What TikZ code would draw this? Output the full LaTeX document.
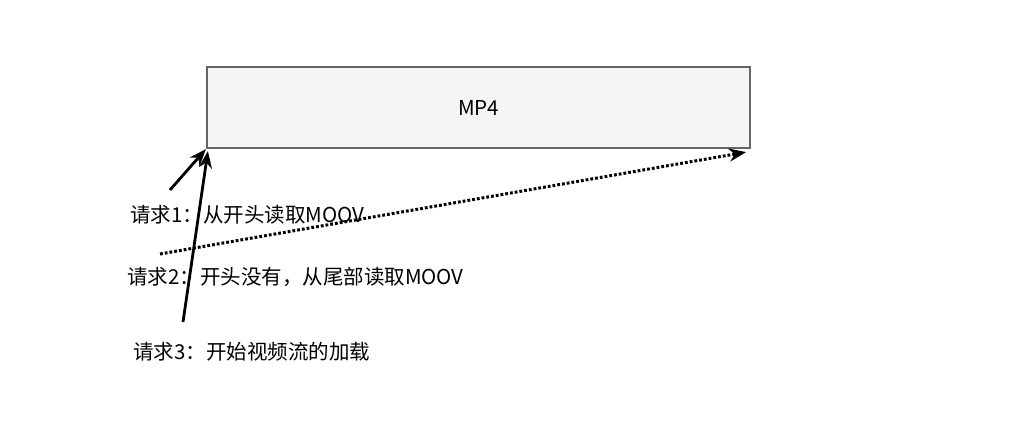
\documentclass[tikz,border=0pt]{standalone}
\usepackage{fontspec}
\setmainfont{Noto Sans CJK SC}
\usetikzlibrary{arrows.meta}
\begin{document}
\begin{tikzpicture}[x=1pt,y=-1pt,
  lbl/.style={anchor=west,inner sep=0pt,font=\fontsize{20.5}{22}\selectfont},
  arr/.style={line width=2.8pt,-{Stealth[length=17pt,width=13pt]}}]
\useasboundingbox[fill=white] (0,0) rectangle (1010,436);
\node[draw=black!60,fill=black!4,line width=2.2pt,minimum width=543pt,minimum height=81pt,inner sep=0pt,font=\fontsize{20.5}{22}\selectfont] (mp4) at (478.5,107.5) {MP4};
\node[lbl] (r1) at (130,215) {请求1：从开头读取MOOV};
\node[lbl] (r2) at (127,277) {请求2：开头没有，从尾部读取MOOV};
\node[lbl] (r3) at (133,352) {请求3：开始视频流的加载};
\coordinate (a1s) at (170,190);
\coordinate (a2s) at (183,322);
\coordinate (a3s) at (160,254);
\draw[arr] (a1s) -- (mp4.south west);
\draw[arr] (a2s) -- ([xshift=2pt,yshift=-2pt]mp4.south west);
\draw[arr,dotted,line width=3pt] (a3s) -- ([xshift=-5pt,yshift=-3pt]mp4.south east);
\end{tikzpicture}
\end{document}
